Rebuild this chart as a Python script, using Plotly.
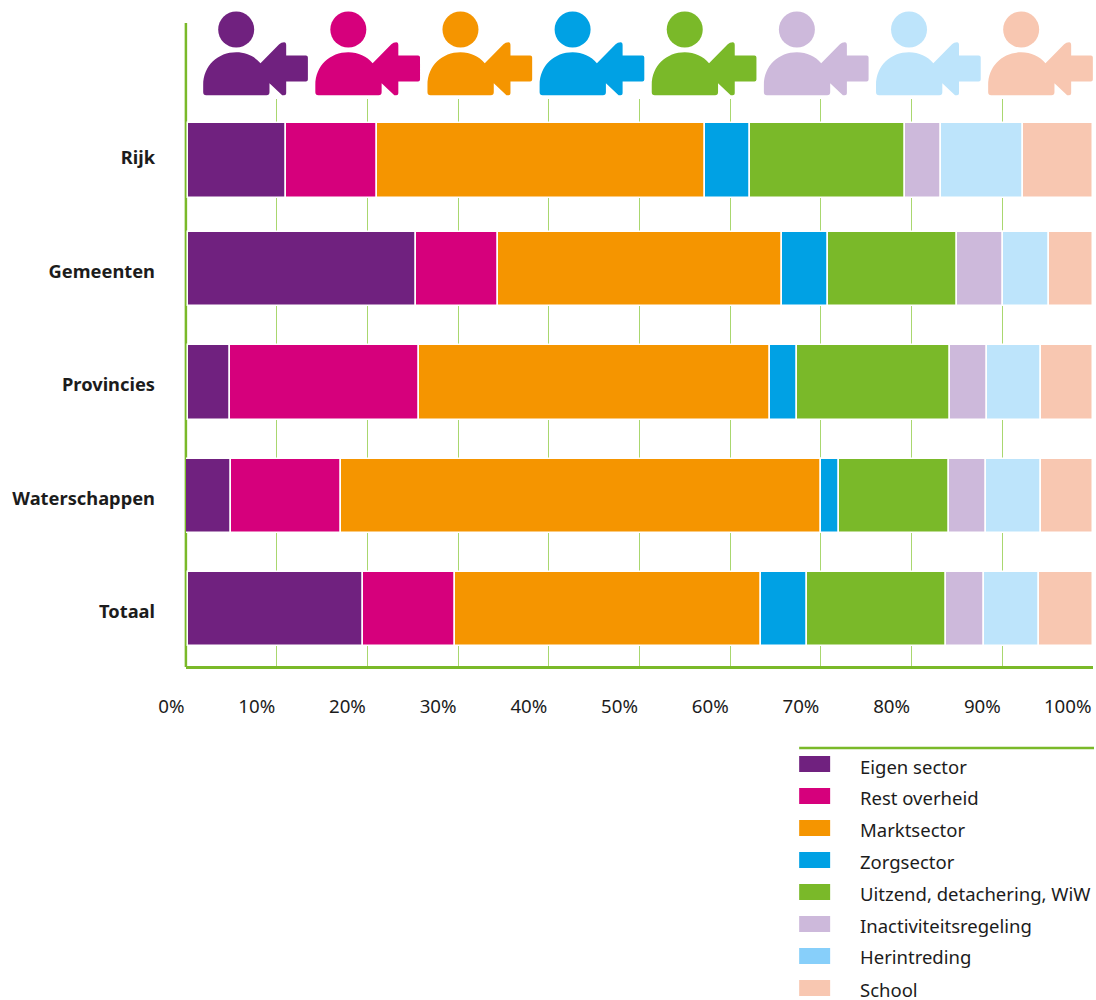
import plotly.graph_objects as go

groups = ["Rijk", "Gemeenten", "Provincies", "Waterschappen", "Totaal"]
series = ["Eigen sector", "Rest overheid", "Marktsector", "Zorgsector",
          "Uitzend, detachering, WiW", "Inactiviteitsregeling", "Herintreding", "School"]
eigen = [10.9, 25.2, 4.7, 5.0, 19.3]
rest = [10.0, 9.0, 20.8, 12.1, 10.2]
markt = [36.1, 31.3, 38.7, 53.0, 33.7]
zorg = [5.0, 5.1, 3.0, 2.0, 5.1]
uitzend = [17.1, 14.2, 16.9, 12.1, 15.3]
inactief = [4.0, 5.1, 4.0, 4.0, 4.2]
herintreding = [9.0, 5.1, 6.0, 6.1, 6.1]
school = [7.7, 4.8, 5.7, 5.8, 5.9]
tick_values = [0, 10, 20, 30, 40, 50, 60, 70, 80, 90, 100]
tick_labels = ["0%", "10%", "20%", "30%", "40%", "50%", "60%", "70%", "80%", "90%", "100%"]

values = [eigen, rest, markt, zorg, uitzend, inactief, herintreding, school]
colors = ["#70217f", "#d6007c", "#f59500", "#00a1e4", "#7ab929", "#cdb9db", "#bde4fb", "#f8c7b1"]
legend_colors = colors[:6] + ["#87cffa", colors[7]]

FONT = "Noto Sans"
TEXT = "#1c1c1c"
GREEN = "#7ab929"
W, H = 1096, 1000
L, R, T, B = 185.5, 3, 99, 334
PH = H - T - B
PW = W - L - R


def px(x):
    return (x - L) / PW


def py(y):
    return (H - B - y) / PH


# small layout nudges: bars sit slightly off the label rows; first bar starts off the axis
rows = list(range(len(groups)))
nudge = [0.018, -0.022, -0.022, -0.022, -0.026]
start = [0.17, 0.17, 0.17, -0.05, 0.17]
bar_y = [r + n for r, n in zip(rows, nudge)]

fig = go.Figure()
running = list(start)
for name, vals, col in zip(series, values, colors):
    fig.add_bar(y=bar_y, x=vals, base=list(running), name=name, orientation="h", width=0.66,
                marker=dict(color=col, line=dict(color="white", width=1.5)),
                showlegend=False)
    running = [a + b for a, b in zip(running, vals)]

shapes = []
# vertical axis line, running up to the icons
shapes.append(dict(type="line", xref="paper", yref="paper", x0=px(185.4), x1=px(185.4),
                   y0=py(667), y1=py(23), layer="below", line=dict(color=GREEN, width=2.5)))

BODY = ("M3,0 Q0,0 0,3 L0,10 C0,30 15,43 33,43 C43,43 51.5,39 57.3,32 L76,51 "
        "Q78,53 81,53 Q83,53 83,50 L83,39.7 L102.7,39.7 Q104.7,39.7 104.7,37.7 "
        "L104.7,15.7 Q104.7,13.7 102.7,13.7 L83,13.7 L83,2 Q83,0 81,0 L79,0 "
        "L66.3,12 L66.3,3 Q66.3,0 63.3,0 Z")
for i, col in enumerate(colors):
    x_left = 202.7 + 112.2 * i
    shapes.append(dict(type="path", path=BODY, xref="paper", yref="paper",
                       xsizemode="pixel", ysizemode="pixel",
                       xanchor=px(x_left), yanchor=py(95.3),
                       fillcolor=col, line=dict(width=0)))
    shapes.append(dict(type="circle", xref="paper", yref="paper",
                       xsizemode="pixel", ysizemode="pixel",
                       xanchor=px(x_left), yanchor=py(95.3),
                       x0=15, x1=51, y0=47.8, y1=83.8,
                       fillcolor=col, line=dict(width=0)))

# legend
shapes.append(dict(type="line", xref="paper", yref="paper", x0=px(799), x1=px(1094),
                   y0=py(748), y1=py(748), line=dict(color=GREEN, width=2.5)))
annotations = []
for i, (name, col) in enumerate(zip(series, legend_colors)):
    top = 756 + 32 * i
    shapes.append(dict(type="rect", xref="paper", yref="paper", x0=px(799), x1=px(830),
                       y0=py(top), y1=py(top + 16), fillcolor=col, line=dict(width=0)))
    extra = dict(height=22, borderpad=0) if i == len(series) - 1 else dict(borderpad=0)
    annotations.append(dict(text=name, xref="paper", yref="paper", x=px(859), y=py(766 + 31.8 * i),
                            xanchor="left", yanchor="middle", showarrow=False, align="left",
                            font=dict(family=FONT, size=18.5, color=TEXT), **extra))

fig.update_layout(
    width=W, height=H, autosize=False,
    margin=dict(l=L, r=R, t=T, b=B, pad=0),
    paper_bgcolor="white", plot_bgcolor="white",
    barmode="overlay", bargap=0,
    shapes=shapes, annotations=annotations,
    font=dict(family=FONT, size=18, color=TEXT),
    xaxis=dict(range=[0, 100], tickvals=tick_values, ticktext=tick_labels,
               ticklabelposition="outside left", ticks="", ticklabelstandoff=22,
               showgrid=True, gridcolor="#a9d76f", gridwidth=1.4,
               zeroline=False, showline=True, linecolor=GREEN, linewidth=3,
               layer="below traces", tickfont=dict(family=FONT, size=18.7, color=TEXT)),
    yaxis=dict(range=[4.476, -0.520], tickvals=rows, ticktext=groups,
               ticks="", ticklabelstandoff=30,
               showgrid=False, zeroline=False, showline=False,
               layer="below traces",
               tickfont=dict(family=FONT, size=18.3, color=TEXT, weight="bold")),
)

fig.write_html("out.html", config={"displayModeBar": False},
               post_script="document.body.style.margin='0';document.body.style.overflow='hidden';")
